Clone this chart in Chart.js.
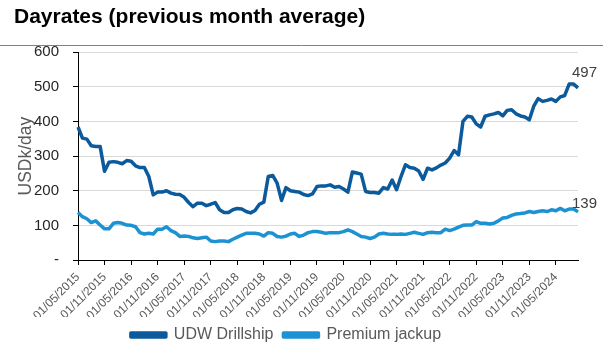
<!DOCTYPE html>
<html>
<head>
<meta charset="utf-8">
<script src="https://cdn.jsdelivr.net/npm/chart.js@4/dist/chart.umd.min.js"></script>
<style>
  html, body { margin: 0; padding: 0; background: #fff; }
  #wrap { width: 612px; height: 350px; position: relative; }
</style>
</head>
<body>
<div id="wrap"><canvas id="rateChart"></canvas></div>
<script>
// monthly, May 2015 - Oct 2024 (USDk/day)
var drillship = [384,352,349,330,328,328,256,282,284,282,278,287,
  285,272,267,267,241,188,196,196,200,193,190,189,
  181,166,154,164,164,157,161,166,145,137,137,145,
  149,147,140,136,143,161,167,241,244,222,172,209,
  200,198,196,189,186,191,212,214,214,217,210,212,
  205,196,254,251,248,198,195,195,193,209,205,231,
  203,241,275,267,265,257,233,265,260,266,274,280,
  294,316,304,400,415,413,393,384,415,419,422,426,
  416,432,434,422,416,413,405,444,466,458,461,465,
  458,471,475,508,508,497];
var jackup = [137,125,119,108,113,101,90,90,106,108,106,101,
  100,96,79,75,77,75,89,89,96,85,79,68,
  69,68,64,62,64,66,55,53,55,55,53,60,
  66,72,77,77,77,75,69,79,77,68,66,69,
  75,77,68,72,79,82,82,80,77,79,79,79,
  82,87,82,75,68,66,62,66,75,77,75,74,
  74,75,74,77,80,77,74,79,80,79,79,89,
  85,89,95,100,101,101,111,106,106,104,106,113,
  121,123,129,133,134,136,140,137,140,142,140,145,
  142,149,142,147,147,139];
var seriesNames = ['UDW Drillship', 'Premium jackup'];
var seriesColors = ['#0B5A9C', '#1C92D2'];

// category labels, first of each month
var months = [];
for (var i = 0; i < drillship.length; i++) {
  var m = (4 + i) % 12 + 1;
  var y = 2015 + Math.floor((4 + i) / 12);
  months.push('01/' + (m < 10 ? '0' + m : m) + '/' + y);
}

var FONT = "'Liberation Sans', Arial, sans-serif";
var GREY = '#595959';

// rule under the title + end-value labels, legend nudged left
var extras = {
  id: 'extras',
  afterLayout: function(chart) {
    chart.legend.left -= 10;
    chart.legend.right -= 10;
  },
  afterDraw: function(chart) {
    var c = chart.ctx;
    c.save();
    c.strokeStyle = '#808080';
    c.lineWidth = 1;
    c.beginPath();
    c.moveTo(0, 45.5);
    c.lineTo(603, 45.5);
    c.stroke();

    c.font = '15px ' + FONT;
    c.fillStyle = '#404040';
    c.textAlign = 'left';
    c.textBaseline = 'middle';
    var dy = [-15, -8];
    chart.data.datasets.forEach(function(ds, k) {
      var pts = chart.getDatasetMeta(k).data;
      var last = pts[pts.length - 1];
      c.fillText(String(ds.data[ds.data.length - 1]), last.x - 6, last.y + dy[k]);
    });
    c.restore();
  }
};

var ctx = document.getElementById('rateChart').getContext('2d');
var rateChart = new Chart(ctx, {
  type: 'line',
  data: {
    labels: months,
    datasets: [{
      label: seriesNames[0],
      data: drillship,
      borderColor: seriesColors[0],
      backgroundColor: seriesColors[0],
      borderWidth: 3.5,
      pointRadius: 0,
      tension: 0,
      borderJoinStyle: 'round'
    }, {
      label: seriesNames[1],
      data: jackup,
      borderColor: seriesColors[1],
      backgroundColor: seriesColors[1],
      borderWidth: 3.5,
      pointRadius: 0,
      tension: 0,
      borderJoinStyle: 'round'
    }]
  },
  options: {
    responsive: true,
    maintainAspectRatio: false,
    animation: false,
    layout: { padding: { left: 14, right: 34, top: 0, bottom: -3 } },
    plugins: {
      title: {
        display: true,
        text: 'Dayrates (previous month average)',
        align: 'start',
        color: '#000',
        font: { family: FONT, size: 21, weight: 'bold' },
        padding: { top: 5, bottom: 22 }
      },
      legend: {
        position: 'bottom',
        labels: {
          boxWidth: 35,
          boxHeight: 4,
          padding: 10,
          color: GREY,
          font: { family: FONT, size: 16 }
        }
      },
      tooltip: { enabled: false }
    },
    scales: {
      x: {
        grid: { drawOnChartArea: false, tickLength: 5, tickColor: '#000' },
        border: { color: '#000', width: 1 },
        ticks: {
          autoSkip: false,
          minRotation: 45,
          maxRotation: 45,
          padding: 5,
          color: GREY,
          font: { family: FONT, size: 12 },
          callback: function(v, i) {
            return i % 6 === 0 ? months[i] : null;
          }
        },
        afterFit: function(s) { s.height = 57; }
      },
      y: {
        min: 0,
        max: 600,
        grid: { color: '#d9d9d9', tickLength: 5, tickColor: '#000' },
        border: { color: '#000', width: 1 },
        ticks: {
          stepSize: 100,
          padding: 14,
          color: '#262626',
          font: { family: FONT, size: 15 },
          callback: function(v) { return v === 0 ? '-' : v; }
        },
        title: {
          display: true,
          text: 'USDk/day',
          color: GREY,
          font: { family: FONT, size: 17.5 },
          padding: { top: 2, bottom: 0 }
        },
        afterFit: function(s) { s.width = 64; }
      }
    }
  },
  plugins: [extras]
});
</script>
</body>
</html>
